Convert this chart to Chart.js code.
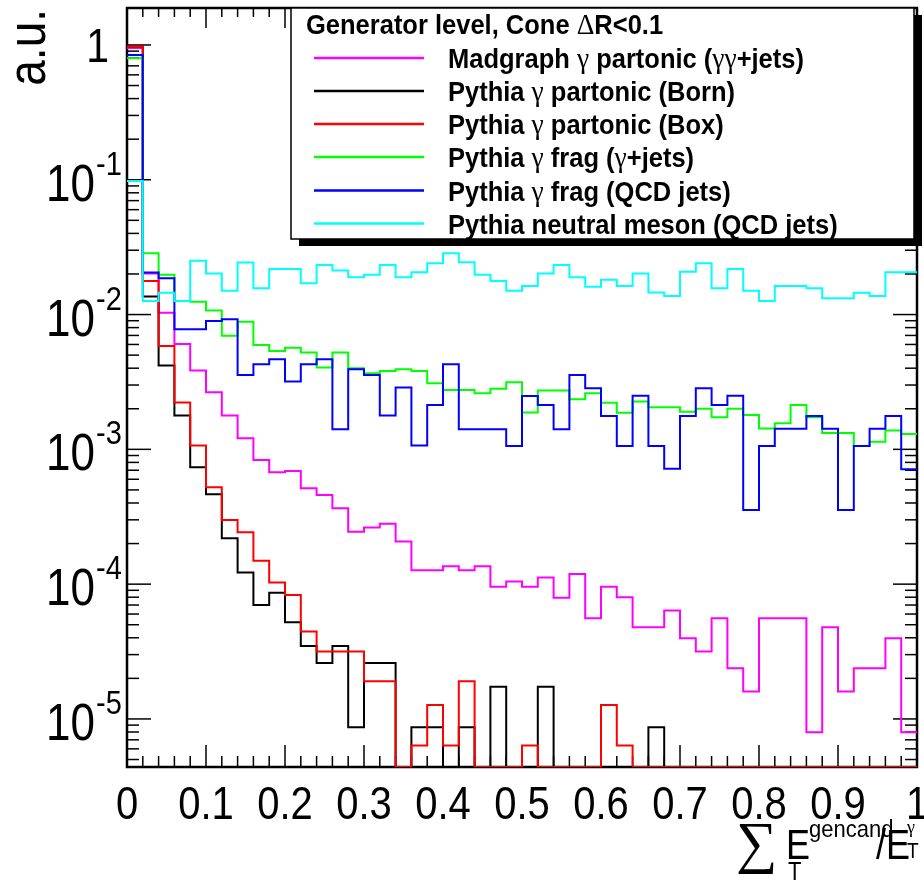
<!DOCTYPE html>
<html>
<head>
<meta charset="utf-8">
<script src="https://cdn.jsdelivr.net/npm/chart.js@4.4.0/dist/chart.umd.min.js"></script>
<style>
html,body{margin:0;padding:0;background:#ffffff;}
canvas{display:block;}
</style>
</head>
<body>
<canvas id="c" width="924" height="880"></canvas>
<script>
// ---------- data ----------
const binEdges = [0,0.02,0.04,0.06,0.08,0.1,0.12,0.14,0.16,0.18,0.2,0.22,0.24,0.26,0.28,0.3,0.32,0.34,0.36,0.38,0.4,0.42,0.44,0.46,0.48,0.5,0.52,0.54,0.56,0.58,0.6,0.62,0.64,0.66,0.68,0.7,0.72,0.74,0.76,0.78,0.8,0.82,0.84,0.86,0.88,0.9,0.92,0.94,0.96,0.98,1.0];

const madgraphPartonic = [0.948,0.0202,0.01033,0.00605,0.00384,0.00265,0.00178,0.00121,0.000834,0.000676,
  0.000692,0.000514,0.000458,0.000366,0.000245,0.000263,0.00028,0.000207,0.000127,0.000127,
  0.000136,0.000127,0.000136,9.58e-5,1.044e-4,9.58e-5,1.12e-4,7.94e-5,1.19e-4,5.58e-5,
  9.58e-5,8.0e-5,4.79e-5,4.79e-5,6.37e-5,3.97e-5,3.16e-5,5.58e-5,2.38e-5,1.6e-5,
  5.58e-5,5.58e-5,5.58e-5,7.96e-6,4.79e-5,1.6e-5,2.38e-5,2.38e-5,3.97e-5,7.96e-6];

const pythiaBorn = [0.976,0.0136,0.00418,0.00178,0.000737,0.000464,0.000219,0.000122,7.01e-5,8.65e-5,
  5.22e-5,3.47e-5,2.6e-5,3.47e-5,8.67e-6,2.6e-5,2.6e-5,0,8.67e-6,8.67e-6,
  0,8.67e-6,0,1.734e-5,0,0,1.734e-5,0,0,0,
  0,0,0,8.67e-6,0,0,0,0,0,0,
  0,0,0,0,0,0,0,0,0,0];

const pythiaBox = [0.972,0.0177,0.00585,0.00223,0.00107,0.000524,0.000299,0.000243,0.000149,0.000103,
  8.31e-5,4.45e-5,3.17e-5,3.17e-5,3.17e-5,1.9e-5,1.9e-5,0,6.34e-6,1.27e-5,
  6.34e-6,1.9e-5,0,0,0,6.34e-6,0,0,0,0,
  1.27e-5,6.34e-6,0,0,0,0,0,0,0,0,
  0,0,0,0,0,0,0,0,0,0];

const pythiaFragGJets = [0.797,0.0285,0.0197,0.0126,0.01247,0.0107,0.00697,0.00886,0.00595,0.00537,
  0.00568,0.00522,0.00404,0.00522,0.0040,0.00367,0.00382,0.00393,0.00382,0.00309,
  0.00276,0.00276,0.00261,0.00281,0.00315,0.00188,0.00273,0.00273,0.00235,0.00261,
  0.00222,0.00187,0.00226,0.00205,0.00205,0.0019,0.0020,0.00173,0.0020,0.0018,
  0.00143,0.00156,0.00213,0.00173,0.00132,0.00132,0.00106,0.00114,0.00138,0.0013];

const pythiaFragQCD = [0.843,0.0205,0.0186,0.00778,0.00778,0.00896,0.00923,0.00356,0.00428,0.00466,
  0.00318,0.00428,0.00466,0.00141,0.00393,0.00356,0.00178,0.00287,0.00107,0.00213,
  0.00428,0.00141,0.00141,0.00141,0.00106,0.00249,0.00213,0.00141,0.00356,0.00284,
  0.00177,0.00106,0.0025,0.00106,0.000718,0.00177,0.00284,0.00213,0.0025,0.000355,
  0.00106,0.00142,0.00142,0.00177,0.00142,0.000355,0.00106,0.00142,0.00177,0.000711];

const pythiaMeson = [0.098,0.0126,0.01454,0.0126,0.0251,0.0202,0.01504,0.0243,0.01567,0.0218,
  0.0218,0.01706,0.0233,0.0212,0.0189,0.0197,0.0233,0.0189,0.0206,0.0240,
  0.0285,0.0244,0.0197,0.0177,0.01504,0.0163,0.0202,0.0233,0.0189,0.0161,
  0.0181,0.0163,0.0202,0.0146,0.01374,0.0208,0.0240,0.01567,0.0218,0.01504,
  0.0126,0.0163,0.0163,0.01567,0.0132,0.0132,0.01454,0.01374,0.0206,0.0206];

const seriesLabels = [
  "Madgraph γ partonic (γγ+jets)",
  "Pythia γ partonic (Born)",
  "Pythia γ partonic (Box)",
  "Pythia γ frag (γ+jets)",
  "Pythia γ frag (QCD jets)",
  "Pythia neutral meson (QCD jets)"
];
const seriesColors = ["#ff00ff","#000000","#ff0000","#00ff00","#0000ff","#00ffff"];
const legendTitle = "Generator level, Cone ΔR<0.1";

const xTickValues = [0,0.1,0.2,0.3,0.4,0.5,0.6,0.7,0.8,0.9,1];
const xTickLabels = ["0","0.1","0.2","0.3","0.4","0.5","0.6","0.7","0.8","0.9","1"];
const yTickExponents = [0,-1,-2,-3,-4,-5];
const yAxisTitle = "a.u.";

const Y_MIN = 4.4e-6, Y_MAX = 1.88;

// ---------- helpers ----------
function histPoints(vals){
  const pts = vals.map((v,i)=>({x: binEdges[i], y: v > 0 ? v : Y_MIN}));
  const last = vals[vals.length-1];
  pts.push({x: binEdges[vals.length], y: last > 0 ? last : Y_MIN});
  return pts;
}
const allSeries = [madgraphPartonic, pythiaBorn, pythiaBox, pythiaFragGJets, pythiaFragQCD, pythiaMeson];

const SANS = '"Liberation Sans", Arial, Helvetica, sans-serif';
const SERIF = '"Liberation Serif", "DejaVu Serif", serif';
const SY = 1.16;

function stretchedText(ctx, str, x, y, font, align, sy){
  ctx.save();
  ctx.translate(x, y);
  ctx.scale(1, sy);
  ctx.font = font;
  ctx.textAlign = align || 'left';
  ctx.textBaseline = 'alphabetic';
  ctx.fillText(str, 0, 0);
  ctx.restore();
}
function mixedText(ctx, str, x, y, size, sy){
  const runs = [];
  for (const ch of str){
    const g = /[γΔ]/.test(ch);
    if (runs.length && runs[runs.length-1].g === g) runs[runs.length-1].s += ch;
    else runs.push({g, s: ch});
  }
  ctx.save();
  ctx.translate(x, y);
  ctx.scale(1, sy);
  ctx.textAlign = 'left';
  ctx.textBaseline = 'alphabetic';
  let cx = 0;
  for (const r of runs){
    ctx.font = r.g ? `${size + 2}px ${SERIF}` : `bold ${size}px ${SANS}`;
    ctx.fillText(r.s, cx, 0);
    cx += ctx.measureText(r.s).width;
  }
  ctx.restore();
}
function seg(ctx, x1, y1, x2, y2){ ctx.beginPath(); ctx.moveTo(x1,y1); ctx.lineTo(x2,y2); ctx.stroke(); }

const rootStyle = {
  id: 'rootStyle',
  beforeDatasetsDraw(chart){
    const ctx = chart.ctx, a = chart.chartArea, xs = chart.scales.x, ys = chart.scales.y;
    ctx.save();
    ctx.strokeStyle = '#000';
    ctx.lineWidth = 1.5;
    binEdges.forEach((v, k) => {
      const px = xs.getPixelForValue(v);
      const major = k % 5 === 0;
      seg(ctx, px, a.bottom, px, a.bottom - (major ? 22 : 11));
      seg(ctx, px, a.top, px, a.top + (major ? 20 : 9));
    });
    for (let e = -6; e <= 0; e++){
      for (let m = 1; m <= 9; m++){
        const v = m * Math.pow(10, e);
        if (v < Y_MIN || v > Y_MAX) continue;
        const py = ys.getPixelForValue(v);
        const len = m === 1 ? 24 : 12;
        seg(ctx, a.left, py, a.left + len, py);
        seg(ctx, a.right, py, a.right - len, py);
      }
    }
    ctx.lineWidth = 2.5;
    ctx.strokeRect(a.left, a.top, a.right - a.left, a.bottom - a.top);
    ctx.restore();
  },
  afterDraw(chart){
    const ctx = chart.ctx, a = chart.chartArea, xs = chart.scales.x, ys = chart.scales.y;
    ctx.save();
    ctx.fillStyle = '#000';
    // x tick labels
    xTickValues.forEach((v, i) => {
      const px = xs.getPixelForValue(v);
      stretchedText(ctx, xTickLabels[i], px, a.bottom + 52, `40px ${SANS}`, 'center', SY);
    });
    // y tick labels (10 with superscript exponent)
    yTickExponents.forEach(e => {
      const py = ys.getPixelForValue(Math.pow(10, e));
      if (e === 0){
        stretchedText(ctx, "1", a.left - 18, py + 17, `41px ${SANS}`, 'right', SY);
      } else {
        stretchedText(ctx, "10", a.left - 32, py + 21, `44px ${SANS}`, 'right', SY);
        stretchedText(ctx, String(e), a.left - 31, py - 5, `29px ${SANS}`, 'left', SY);
      }
    });
    // y axis title
    ctx.save();
    ctx.translate(45, 9);
    ctx.rotate(-Math.PI/2);
    ctx.scale(1, 1.18);
    ctx.font = `46px ${SANS}`;
    ctx.textAlign = 'right';
    ctx.textBaseline = 'alphabetic';
    ctx.fillText(yAxisTitle, 0, 0);
    ctx.restore();
    // x axis title: sum E_T^gencand / E_T^gamma
    ctx.font = `58px ${SERIF}`;
    ctx.textAlign = 'left';
    ctx.fillText("∑", 736, 862);
    stretchedText(ctx, "E", 786, 859, `36px ${SANS}`, 'left', SY);
    stretchedText(ctx, "gencand", 809, 837, `22px ${SANS}`, 'left', 1.1);
    stretchedText(ctx, "T", 788, 880, `22px ${SANS}`, 'left', SY);
    stretchedText(ctx, "/E", 876, 859, `36px ${SANS}`, 'left', SY);
    stretchedText(ctx, "γ", 907, 833, `18px ${SERIF}`, 'left', 1);
    stretchedText(ctx, "T", 907, 858, `19px ${SANS}`, 'left', SY);

    // legend box with shadow
    const L = {x: 291, y: 8, w: 623, h: 231};
    ctx.fillStyle = '#000';
    ctx.fillRect(L.x + 8, L.y + 7, L.w, L.h);
    ctx.fillStyle = '#fff';
    ctx.fillRect(L.x, L.y, L.w, L.h);
    ctx.lineWidth = 1.5;
    ctx.strokeStyle = '#000';
    ctx.strokeRect(L.x, L.y, L.w, L.h);
    ctx.fillStyle = '#000';
    mixedText(ctx, legendTitle, 306, 34, 25.5, 1.1);
    const rowY = [58, 91, 124, 157, 190.5, 223.5];
    chart.data.datasets.forEach((ds, i) => {
      ctx.strokeStyle = ds.borderColor;
      ctx.lineWidth = 2.5;
      seg(ctx, 314, rowY[i], 424, rowY[i]);
      ctx.fillStyle = '#000';
      mixedText(ctx, ds.label, 448, rowY[i] + 10, 25.5, 1.1);
    });
    ctx.restore();
  }
};

new Chart(document.getElementById('c'), {
  type: 'line',
  data: {
    datasets: allSeries.map((vals, i) => ({
      label: seriesLabels[i],
      data: histPoints(vals),
      borderColor: seriesColors[i],
      backgroundColor: seriesColors[i],
      borderWidth: 2,
      pointRadius: 0,
      stepped: true,
      fill: false,
      order: allSeries.length - i
    }))
  },
  options: {
    responsive: false,
    animation: false,
    devicePixelRatio: 1,
    layout: {padding: {left: 127, right: 7, top: 8, bottom: 113}},
    scales: {
      x: {type: 'linear', min: 0, max: 1, display: false},
      y: {type: 'logarithmic', min: Y_MIN, max: Y_MAX, display: false}
    },
    plugins: {legend: {display: false}, tooltip: {enabled: false}}
  },
  plugins: [rootStyle]
});
</script>
</body>
</html>
